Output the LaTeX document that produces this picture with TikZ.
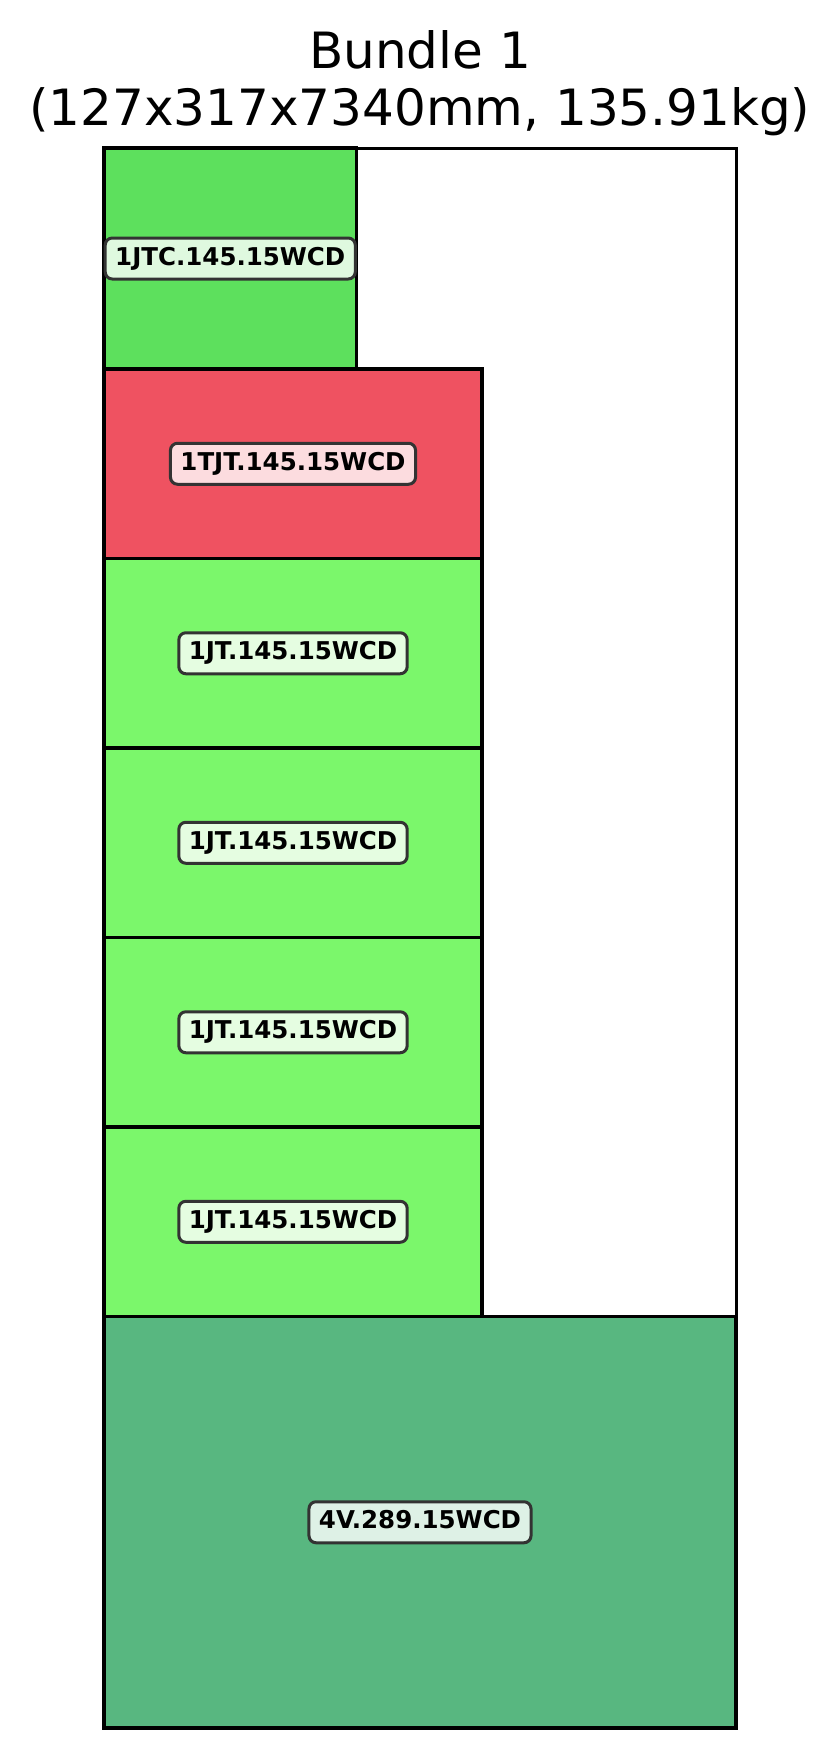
\documentclass[tikz,border=0pt]{standalone}
\usepackage{fontspec}
\setmainfont{DejaVu Sans}
\usetikzlibrary{positioning}
\definecolor{topgreen}{HTML}{5DE05D}
\definecolor{redbox}{HTML}{EF5261}
\definecolor{jtgreen}{HTML}{7BF76B}
\definecolor{vgreen}{HTML}{58B780}
\definecolor{toplab}{HTML}{DFF9DF}
\definecolor{redlab}{HTML}{FCDCDF}
\definecolor{jtlab}{HTML}{E5FDE1}
\definecolor{vlab}{HTML}{DEF1E6}

\begin{document}
\begin{tikzpicture}[x=1pt,y=1pt,
   item/.style={draw=black,line width=3.5pt,inner sep=0pt,outer sep=0pt},
   tag/.style={draw=black!80,line width=3pt,rounded corners=7pt,inner xsep=10pt,inner ysep=9pt,
     text height=18pt,text depth=5pt,font=\fontsize{24.5}{28}\selectfont\bfseries},
   node distance=0pt]
   \useasboundingbox[fill=white] (0,0) rectangle (840,-1759);
   % title
   \node[anchor=base,align=center,font=\fontsize{50}{57}\selectfont] (title) at (420,-125)
      {Bundle 1\\(127x317x7340mm, 135.91kg)};
   % bundle outline
   \node[draw=black,line width=3pt,inner sep=0pt,outer sep=0pt,anchor=north west,
      minimum width=632pt,minimum height=1580pt] (bundle) at (104,-148) {};
   % pieces, stacked from the top
   \node[item,fill=topgreen,anchor=north west,minimum width=252.5pt,minimum height=221pt]
      (jtc) at (bundle.north west) {};
   \node[item,fill=redbox,below=of jtc.south west,anchor=north west,minimum width=378pt,minimum height=189.5pt] (tjt) {};
   \node[item,fill=jtgreen,below=of tjt.south west,anchor=north west,minimum width=378pt,minimum height=189.5pt] (jt1) {};
   \node[item,fill=jtgreen,below=of jt1.south west,anchor=north west,minimum width=378pt,minimum height=189.5pt] (jt2) {};
   \node[item,fill=jtgreen,below=of jt2.south west,anchor=north west,minimum width=378pt,minimum height=189.5pt] (jt3) {};
   \node[item,fill=jtgreen,below=of jt3.south west,anchor=north west,minimum width=378pt,minimum height=189.5pt] (jt4) {};
   \node[item,fill=vgreen,below=of jt4.south west,anchor=north west,minimum width=632pt,minimum height=411.5pt] (v) {};
   % labels
   \node[tag,fill=toplab] (jtclab) at (jtc) {1JTC.145.15WCD};
   \node[tag,fill=redlab] (tjtlab) at (tjt) {1TJT.145.15WCD};
   \foreach \i in {1,...,4}
      \node[tag,fill=jtlab] (jt\i lab) at (jt\i) {1JT.145.15WCD};
   \node[tag,fill=vlab] (vlab) at (v) {4V.289.15WCD};
\end{tikzpicture}
\end{document}
